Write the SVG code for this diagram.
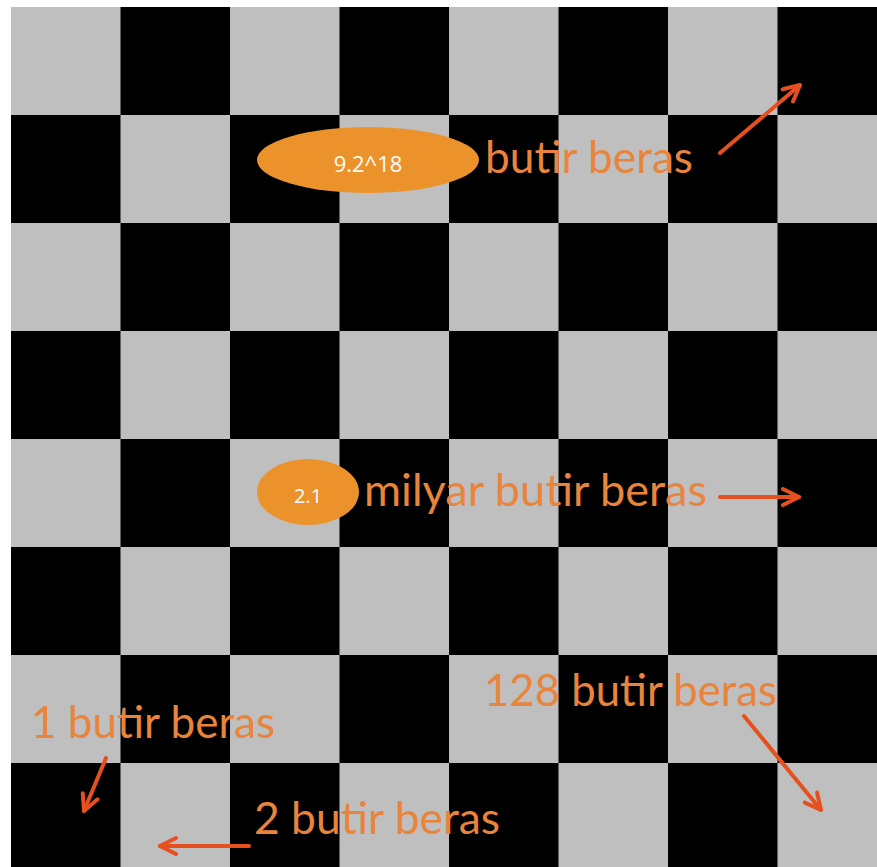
<svg xmlns="http://www.w3.org/2000/svg" width="877" height="867" viewBox="0 0 877 867">
<defs>
<style>
.lbl{font-family:Lato,"Open Sans","Liberation Sans",sans-serif;font-size:44px;fill:#e8843c}
.num{font-family:"Open Sans","Liberation Sans",sans-serif;fill:#fff;text-anchor:middle}
.oval{fill:#ec922b}
.arr{stroke:#e5501e;stroke-width:4;fill:none;stroke-linecap:round;marker-end:url(#ah)}
</style>
<marker id="ah" viewBox="0 0 10 10" refX="9" refY="5" markerWidth="5" markerHeight="5" orient="auto" markerUnits="strokeWidth">
<path d="M1,1 L9,5 L1,9" fill="none" stroke="#e5501e" stroke-width="2" stroke-linecap="round" stroke-linejoin="round"/>
</marker>
<pattern id="board" x="11" y="7" width="219" height="216" patternUnits="userSpaceOnUse">
<rect x="0" y="0" width="219" height="216" fill="#000"/>
<rect x="0" y="0" width="109.5" height="108" fill="#bfbfbf"/>
<rect x="109.5" y="108" width="109.5" height="108" fill="#bfbfbf"/>
</pattern>
</defs>
<rect width="877" height="867" fill="#fff"/>
<g id="board">
<rect x="11" y="7" width="866" height="860" fill="url(#board)"/>
</g>
<g id="connectors">
<line class="arr" x1="720" y1="153" x2="800" y2="85"/>
<line class="arr" x1="720" y1="497" x2="799" y2="497"/>
<line class="arr" x1="106" y1="758" x2="84" y2="811"/>
<line class="arr" x1="249" y1="846" x2="160" y2="846"/>
<line class="arr" x1="744" y1="716" x2="821" y2="810"/>
</g>
<g id="node-top">
<ellipse class="oval" cx="368" cy="160" rx="111" ry="33"/>
<text class="num" x="368" y="172" font-size="22">9.2^18</text>
<text class="lbl" x="485" y="173" textLength="208" lengthAdjust="spacingAndGlyphs">butir beras</text>
</g>
<g id="node-mid">
<ellipse class="oval" cx="308" cy="492" rx="51" ry="33"/>
<text class="num" x="308" y="503" font-size="20">2.1</text>
<text class="lbl" x="364" y="506" textLength="343" lengthAdjust="spacingAndGlyphs">milyar butir beras</text>
</g>
<g id="node-1">
<text class="lbl" x="31" y="738" textLength="244" lengthAdjust="spacingAndGlyphs">1 butir beras</text>
</g>
<g id="node-2">
<text class="lbl" x="254" y="834" textLength="246" lengthAdjust="spacingAndGlyphs">2 butir beras</text>
</g>
<g id="node-128">
<text class="lbl" x="484" y="706" textLength="293" lengthAdjust="spacingAndGlyphs">128 butir beras</text>
</g>
</svg>
